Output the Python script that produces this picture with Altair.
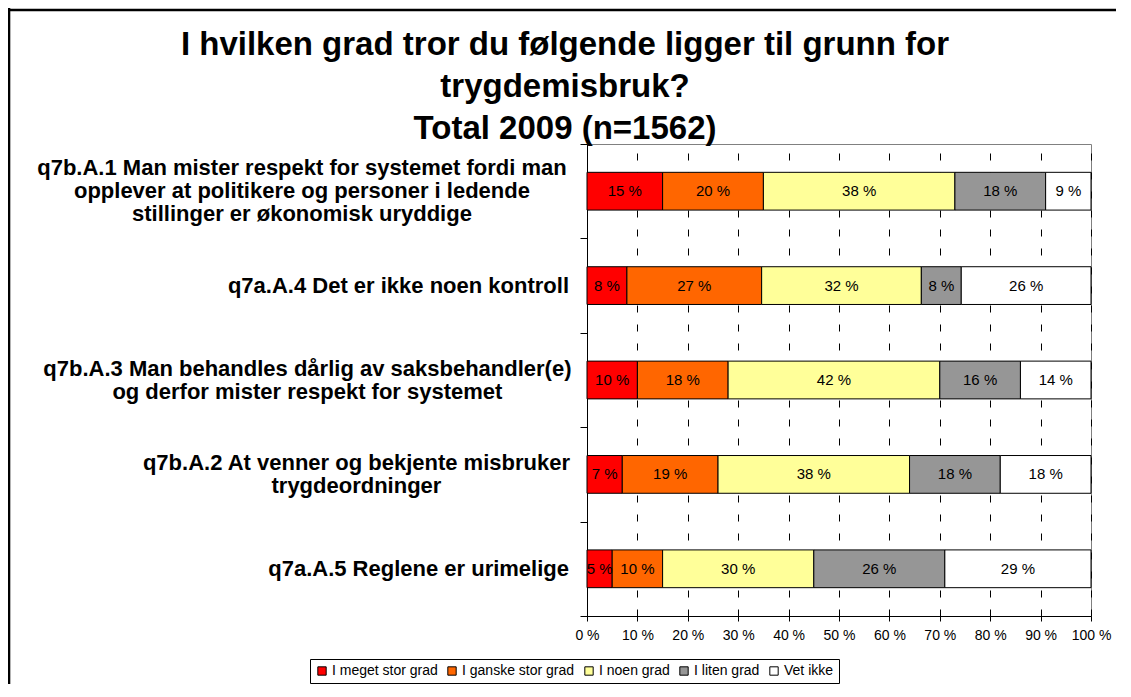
import altair as alt

# ---------------- data ----------------
CATEGORY_LINES = [
    ["q7b.A.1 Man mister respekt for systemet fordi man",
     "opplever at politikere og personer i ledende",
     "stillinger er økonomisk uryddige"],
    ["q7a.A.4 Det er ikke noen kontroll"],
    ["q7b.A.3 Man behandles dårlig av saksbehandler(e)",
     "og derfor mister respekt for systemet"],
    ["q7b.A.2 At venner og bekjente misbruker",
     "trygdeordninger"],
    ["q7a.A.5 Reglene er urimelige"],
]
CATEGORIES = [" ".join(lines) for lines in CATEGORY_LINES]

SERIES = ["I meget stor grad", "I ganske stor grad", "I noen grad", "I liten grad", "Vet ikke"]
COLORS = ["#FF0000", "#FF6600", "#FFFF99", "#969696", "#FFFFFF"]

MEGET_STOR = [15, 8, 10, 7, 5]
GANSKE_STOR = [20, 27, 18, 19, 10]
NOEN = [38, 32, 42, 38, 30]
LITEN = [18, 8, 16, 18, 26]
VET_IKKE = [9, 26, 14, 18, 29]
SERIES_VALUES = [MEGET_STOR, GANSKE_STOR, NOEN, LITEN, VET_IKKE]

TITLE_LINES = ["I hvilken grad tror du følgende ligger til grunn for",
               "trygdemisbruk?",
               "Total 2009 (n=1562)"]
X_TICKS = [0, 0.1, 0.2, 0.3, 0.4, 0.5, 0.6, 0.7, 0.8, 0.9, 1.0]

# ---------------- tables ----------------
records = []
for ci, cat in enumerate(CATEGORIES):
    for si, s in enumerate(SERIES):
        records.append({"cat": cat, "series": s, "order": si, "value": SERIES_VALUES[si][ci]})

label_records = [
    {"cat": cat, "label": "\n".join(lines),
     "nchar": max(len(l) for l in lines), "nlines": len(lines)}
    for cat, lines in zip(CATEGORIES, CATEGORY_LINES)
]

FONT = "Liberation Sans"

base = alt.Chart(alt.Data(values=records)).transform_stack(
    stack="value",
    groupby=["cat"],
    sort=[alt.SortField("order", order="ascending")],
    offset="normalize",
    as_=["x0", "x1"],
)

y_enc = alt.Y(
    "cat:N",
    sort=CATEGORIES,
    title=None,
    scale=alt.Scale(domain=CATEGORIES, paddingInner=0, paddingOuter=0),
    axis=alt.Axis(labels=False, title=None, grid=False, ticks=True, tickBand="extent",
                  tickSize=7, tickColor="#000", domainColor="#000", domainWidth=1),
)

bars = base.mark_bar(stroke="#000", strokeWidth=1, height={"band": 0.4}).encode(
    x=alt.X(
        "x0:Q",
        title=None,
        scale=alt.Scale(domain=[0, 1], nice=False, zero=True),
        axis=alt.Axis(values=X_TICKS, labelExpr="round(datum.value*100) + ' %'",
                      title=None, grid=True, gridDash=[7, 12], gridColor="#000",
                      gridWidth=1, tickSize=5, tickColor="#000", domainColor="#000",
                      labelFontSize=14, labelColor="#000", labelFont=FONT,
                      labelPadding=7, labelFlush=False),
    ),
    x2="x1:Q",
    y=y_enc,
    color=alt.Color(
        "series:N",
        scale=alt.Scale(domain=SERIES, range=COLORS),
        legend=alt.Legend(
            title=None, orient="none", legendX=-277, legendY=515,
            direction="horizontal", symbolType="square", symbolSize=70,
            symbolStrokeColor="#000", symbolStrokeWidth=1, symbolOpacity=1,
            labelFontSize=14, labelFont=FONT, labelColor="#000",
            strokeColor="#000", fillColor="#FFFFFF", padding=5,
            columnPadding=7, labelOffset=3,
        ),
    ),
)

bar_text = base.transform_calculate(
    mid="(datum.x0 + datum.x1) / 2",
    lbl="datum.value + ' %'",
).mark_text(fontSize=15, font=FONT, color="#000", align="center", baseline="middle").encode(
    x=alt.X("mid:Q", title=None),
    y=alt.Y("cat:N", sort=CATEGORIES, title=None),
    text="lbl:N",
)

# multi-line labels: lines centred within a block whose right edge sits by the axis;
# single-line labels: right-aligned by the axis
y_labels = alt.Chart(alt.Data(values=label_records)).mark_text(
    baseline="middle", fontSize=22, fontWeight="bold", font=FONT,
    lineHeight=23, lineBreak="\n", color="#000",
    align=alt.expr("datum.nlines == 1 ? 'right' : 'center'"),
    dx=alt.expr("datum.nlines == 1 ? 0 : -datum.nchar * 5.45"),
    dy=alt.expr("-(datum.nlines - 1) * 11.5"),
).encode(
    x=alt.value(-18),
    y=alt.Y("cat:N", sort=CATEGORIES, title=None),
    text="label:N",
)

title = alt.Chart(alt.Data(values=[{"k": 0}])).mark_text(
    text="\n".join(TITLE_LINES), lineBreak="\n", align="center", baseline="top",
    fontSize=33, fontWeight="bold", font=FONT, lineHeight=42, color="#000",
).encode(x=alt.value(-22), y=alt.value(-115))

# outer chart frame: left edge and top edge
frame_left = alt.Chart(alt.Data(values=[{"k": 0}])).mark_rect(color="#000").encode(
    x=alt.value(-579.3), x2=alt.value(-576.7), y=alt.value(-136.3), y2=alt.value(700)
)
frame_top = alt.Chart(alt.Data(values=[{"k": 1}])).mark_tick(
    orient="horizontal", size=1108, thickness=2.5, color="#000", opacity=1,
).encode(x=alt.value(-25), y=alt.value(-134))

chart = alt.layer(frame_left, frame_top, bars, bar_text, y_labels, title).properties(
    width=504,
    height=472,
    autosize=alt.AutoSizeParams(type="none"),
    padding={"left": 579, "top": 136, "right": 28, "bottom": 68},
    background="#FFFFFF",
).configure_view(stroke="#808080", strokeWidth=1)

chart.save("out.html", embed_options={"renderer": "svg", "actions": False})
